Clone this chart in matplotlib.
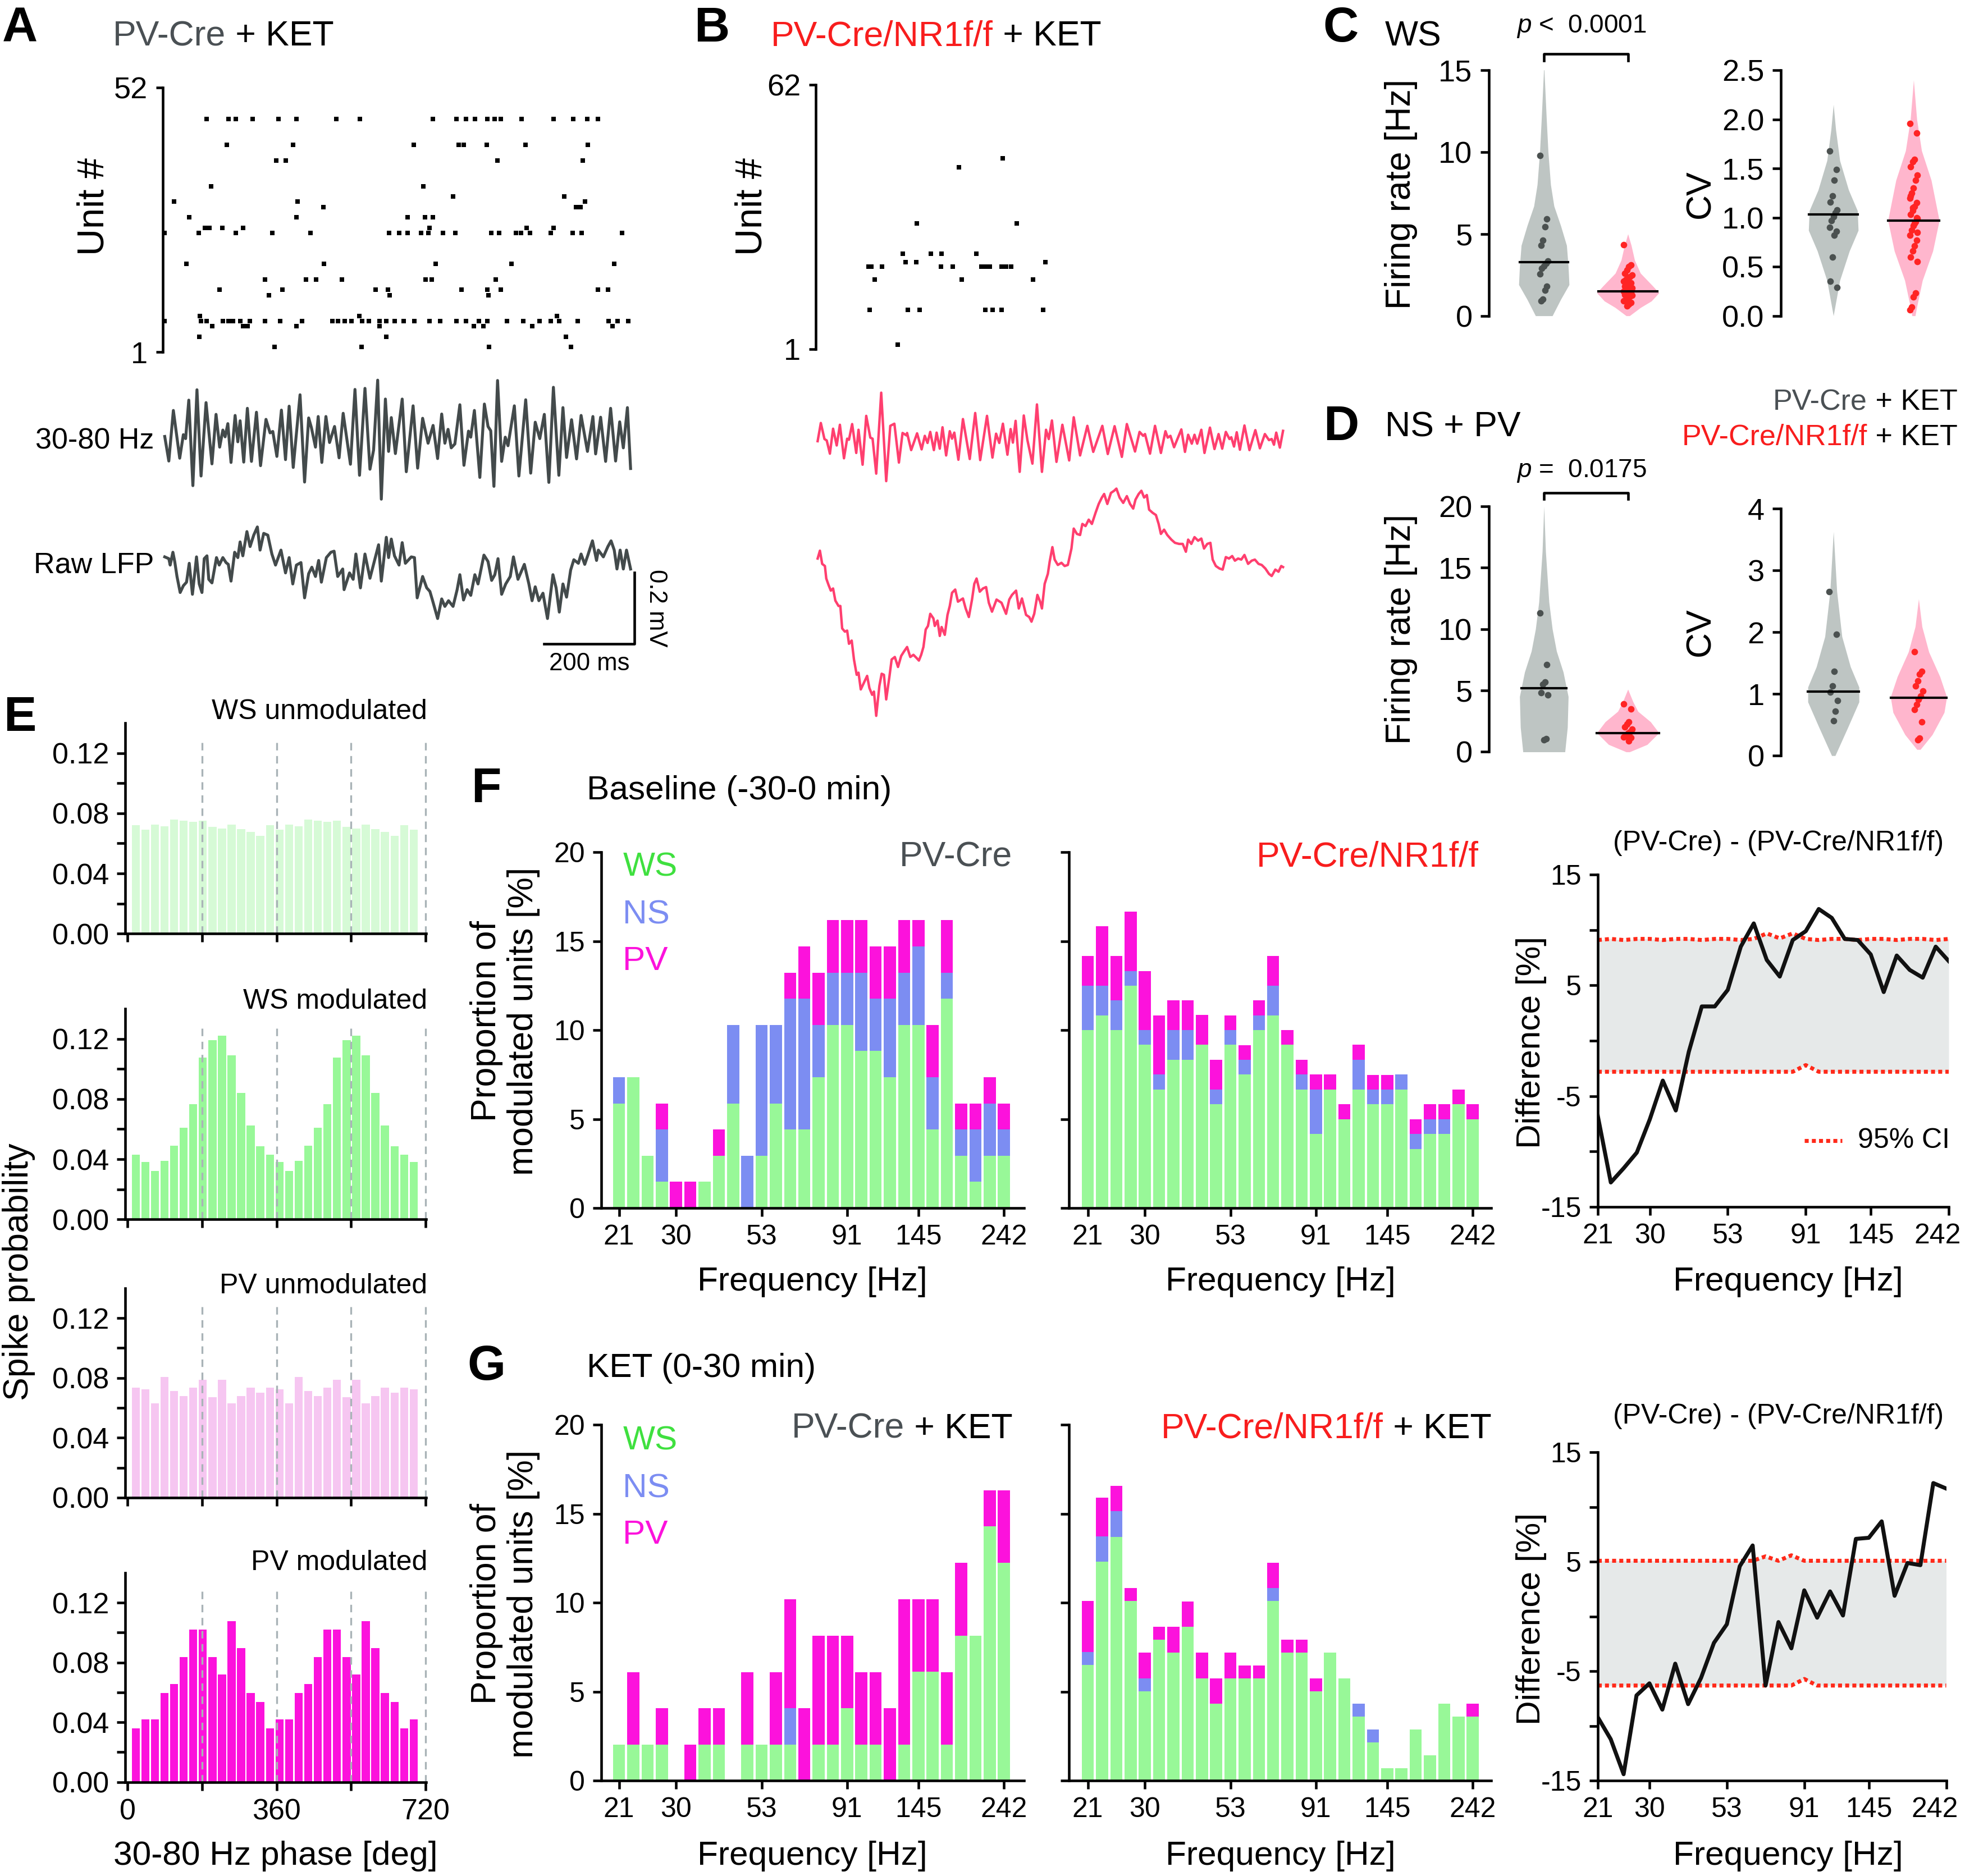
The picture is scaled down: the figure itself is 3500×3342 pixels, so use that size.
import numpy as np
import matplotlib
matplotlib.use('Agg')
import matplotlib.pyplot as plt
import matplotlib.transforms as mtransforms

# ---------------- data ----------------
# A: raster, PV-Cre + KET (unit #, spike times in ms)
raster_a_units = [46, 41, 38, 33, 31, 30, 29, 27, 25, 24, 18, 15, 13, 12, 8, 7, 6, 4, 2]
raster_a_times = [
    [92, 140, 157, 194, 250, 290, 378, 430, 590, 643, 664, 683, 710, 726, 740, 786, 856, 900, 930, 954],
    [137, 283, 548, 647, 659, 709, 795, 932],
    [245, 267, 733, 921],
    [102, 569],
    [635, 880],
    [21, 292, 925],
    [349, 906, 916],
    [54, 290, 535, 573, 590],
    [88, 98, 127, 173, 583, 797, 856],
    [0, 75, 157, 237, 321, 494, 516, 535, 564, 581, 613, 640, 719, 737, 773, 785, 804, 850, 899, 918, 1007],
    [48, 351, 597, 764, 990],
    [221, 311, 333, 390, 575, 588, 729],
    [121, 259, 464, 492, 654, 711, 740, 954, 976],
    [230, 495, 713],
    [78, 428, 864],
    [0, 80, 92, 128, 140, 150, 167, 188, 221, 254, 302, 369, 381, 397, 411, 435, 450, 473, 488, 507,
     526, 550, 583, 607, 642, 664, 692, 711, 754, 790, 826, 850, 869, 909, 978, 997, 1021],
    [105, 173, 183, 290, 473, 681, 702, 810, 986],
    [76, 488, 883],
    [242, 433, 714, 895],
]
# B: raster, PV-Cre/NR1f/f + KET
raster_b_units = [45, 43, 30, 23, 21, 20, 17, 10, 2]
raster_b_times = [
    [408], [311], [219, 438], [188, 249, 273, 349], [194, 217, 502],
    [112, 118, 142, 271, 297, 361, 369, 379, 405, 415, 426],
    [126, 317, 474], [115, 199, 224, 369, 385, 405, 497], [176],
]

# LFP traces: (time ms, uV)
gamma_a = [(0, 6), (9, -63), (19, 79), (33, -55), (41, 11), (46, 0), (53, 108), (62, -132), (71, 137),
           (80, -105), (91, 101), (104, -71), (113, 68), (121, -24), (128, 24), (133, 5), (139, 42),
           (146, -67), (155, 65), (161, -9), (166, 50), (174, -66), (182, 85), (191, -64), (202, 74),
           (211, -76), (223, 54), (232, 16), (238, 20), (247, -50), (257, 80), (266, -59), (274, 91),
           (283, -81), (298, 123), (308, -122), (317, 58), (323, 31), (332, -24), (338, 62), (346, -67),
           (355, 62), (363, -11), (374, 34), (384, -54), (393, 71), (409, -72), (419, 138), (429, -103),
           (441, 141), (452, -86), (460, -32), (469, 164), (477, -170), (486, 111), (493, -36), (499, 59),
           (508, -42), (523, 111), (532, -93), (547, 92), (557, -83), (568, 57), (580, -13), (591, 37),
           (601, -56), (610, 69), (617, -13), (624, 26), (631, -26), (639, -15), (650, 95), (659, -75),
           (669, 21), (674, 4), (682, 79), (694, -109), (704, 97), (712, 34), (718, 22), (725, -134),
           (733, 163), (742, -64), (750, 4), (756, -20), (770, 92), (780, -105), (795, 109), (806, -97),
           (816, 46), (826, 0), (836, 68), (846, -123), (856, 144), (868, -103), (877, 87), (885, -53),
           (896, 53), (907, -57), (917, 65), (931, -36), (943, 62), (949, -43), (960, 60), (971, -64),
           (982, 85), (993, -63), (1002, 47), (1010, -26), (1019, 87), (1026, -84)]
raw_a = [(0, 34), (9, 29), (12, 11), (18, 47), (22, 21), (27, -21), (34, -66), (41, -47), (48, -37),
         (54, 16), (61, -71), (70, 34), (76, -42), (82, -66), (87, 29), (93, 37), (97, -29), (104, -39),
         (114, 32), (120, 11), (128, 32), (135, 18), (140, 13), (146, -34), (154, 47), (161, 32),
         (166, 76), (172, 37), (181, 105), (188, 63), (196, 95), (204, 118), (210, 53), (218, 100),
         (227, 95), (236, 42), (244, 11), (256, 53), (266, -11), (274, 32), (282, -42), (290, 11),
         (300, 18), (308, -81), (317, -13), (324, 5), (332, -21), (339, 24), (345, -37), (356, 32),
         (366, 47), (373, 50), (381, -21), (392, 0), (395, -58), (407, -11), (415, -29), (421, 42),
         (431, -53), (441, 42), (452, -26), (471, 68), (477, -34), (488, 89), (493, 32), (499, 84),
         (506, 37), (516, 11), (523, 74), (530, 16), (543, 34), (550, 32), (556, -81), (568, -21),
         (577, -53), (584, -63), (590, -89), (601, -139), (610, -84), (617, -105), (625, -89),
         (635, -105), (644, -58), (650, -16), (658, -87), (666, -58), (674, -74), (683, -16), (690, -42),
         (703, 39), (712, 21), (720, -32), (727, -16), (734, 29), (742, -71), (751, -42), (761, -21),
         (768, 34), (778, -29), (792, 13), (802, -42), (809, -89), (816, -50), (824, -89), (833, -68),
         (843, -139), (855, -16), (862, -53), (869, -121), (877, -42), (885, -79), (894, -3), (901, 26),
         (911, 16), (917, 42), (925, 13), (932, 39), (942, 79), (951, 24), (955, 53), (966, 34),
         (976, 63), (983, 79), (990, 53), (996, 0), (1003, 53), (1010, 0), (1017, 53), (1026, 0)]
gamma_b = [(0, -4), (7, 47), (15, 2), (20, -2), (27, -39), (34, 31), (42, -16), (49, 42), (58, -52),
           (65, 3), (69, 0), (76, 44), (85, -37), (90, 28), (99, -70), (107, 67), (116, 6), (121, 3),
           (129, -95), (140, 132), (151, -116), (160, 39), (169, 45), (179, -64), (187, 19), (196, 12),
           (197, 19), (206, -29), (219, 18), (229, -27), (236, 11), (242, -9), (248, 22), (256, -29),
           (262, 20), (269, -25), (275, 35), (283, -44), (291, 24), (296, 3), (301, 20), (310, -56),
           (320, 58), (335, -54), (347, 75), (358, -57), (373, 67), (385, -50), (393, 17), (400, -9),
           (408, 45), (418, -42), (425, 30), (430, -8), (436, 53), (445, -90), (454, 68), (462, -1),
           (473, -67), (483, 99), (494, -90), (503, 28), (509, 2), (516, 54), (526, -62), (539, 42),
           (554, -58), (564, 63), (578, -44), (594, 39), (607, -34), (627, 39), (639, -40), (654, 38),
           (670, -48), (681, 44), (699, -33), (709, 22), (717, 11), (721, 16), (732, -39), (743, 39),
           (756, -37), (766, 24), (771, 6), (777, 11), (785, -21), (801, 29), (809, -34), (816, 14),
           (824, -11), (830, 14), (836, -11), (845, 28), (852, -37), (864, 34), (874, -26), (883, 16),
           (891, -25), (899, 22), (907, 2), (911, 7), (917, -19), (923, 21), (930, -28), (940, 40),
           (951, -29), (964, 27), (974, -24), (985, 16), (994, -1), (1000, 2), (1005, -14), (1010, 20),
           (1018, -22), (1025, 25)]
raw_b = [(0, 96), (5, 118), (10, 81), (16, 75), (19, 40), (24, 22), (29, 6), (34, 12), (39, -22),
         (46, -37), (50, -37), (54, -100), (60, -109), (65, -106), (69, -143), (75, -134), (80, -187),
         (86, -230), (90, -224), (95, -271), (102, -252), (109, -233), (114, -267), (120, -286),
         (124, -277), (129, -345), (136, -261), (141, -227), (146, -230), (151, -299), (158, -236),
         (163, -187), (170, -180), (177, -208), (184, -177), (190, -165), (197, -152), (204, -180),
         (211, -174), (218, -183), (223, -190), (228, -174), (233, -152), (238, -103), (243, -93),
         (248, -59), (255, -72), (258, -93), (264, -78), (269, -121), (273, -96), (280, -118),
         (286, -62), (291, -37), (296, 0), (303, 9), (309, -25), (320, -16), (326, -44), (333, -68),
         (340, -19), (345, 25), (350, 40), (357, 3), (364, 12), (371, 16), (377, -28), (384, -53),
         (394, -19), (405, -28), (415, -59), (422, -19), (428, -6), (437, 6), (443, -44), (450, -16),
         (459, -62), (466, -68), (471, -81), (477, -59), (484, -6), (490, -25), (494, -44), (500, 25),
         (507, 53), (511, 87), (517, 128), (522, 93), (529, 78), (537, 84), (544, 75), (551, 78),
         (559, 124), (564, 180), (571, 165), (578, 162), (583, 193), (590, 187), (597, 205), (604, 193),
         (612, 224), (619, 249), (626, 267), (631, 277), (638, 249), (646, 280), (653, 286), (658, 292),
         (665, 267), (673, 252), (681, 271), (688, 249), (695, 236), (700, 261), (707, 277), (713, 286),
         (719, 267), (725, 274), (730, 233), (738, 224), (745, 218), (751, 193), (756, 165), (763, 177),
         (770, 162), (779, 149), (787, 140), (796, 137), (804, 137), (811, 115), (816, 149), (823, 137),
         (830, 156), (838, 146), (845, 152), (851, 124), (858, 137), (865, 140), (870, 93), (877, 75),
         (885, 68), (892, 65), (899, 100), (906, 96), (913, 103), (919, 90), (926, 96), (933, 93),
         (940, 106), (948, 81), (956, 90), (963, 93), (971, 81), (978, 78), (986, 68), (994, 53),
         (1000, 47), (1008, 65), (1015, 59), (1021, 75), (1025, 72)]

# C / D: violin outlines (value, half width) and unit values
ws_fr_grey_prof = ([0, 1.0, 1.9, 3.0, 4.3, 5.5, 6.7, 8.0, 10.0, 12.0, 14.0, 15.3],
                   [0.1, 0.2, 0.3, 0.29, 0.27, 0.2, 0.12, 0.08, 0.05, 0.03, 0.012, 0])
ws_fr_red_prof = ([0, 0.5, 0.9, 1.4, 1.8, 2.6, 3.4, 4.3, 5.0],
                  [0.02, 0.15, 0.28, 0.37, 0.3, 0.15, 0.08, 0.04, 0])
ws_cv_grey_prof = ([0, 0.36, 0.66, 0.87, 1.07, 1.28, 1.58, 1.89, 2.15],
                   [0, 0.08, 0.2, 0.31, 0.3, 0.19, 0.08, 0.03, 0])
ws_cv_red_prof = ([0, 0.09, 0.36, 0.66, 0.97, 1.38, 1.68, 2.0, 2.4],
                  [0.02, 0.04, 0.11, 0.24, 0.32, 0.22, 0.1, 0.04, 0])
ns_fr_grey_prof = ([0, 2.0, 4.5, 6.5, 8.2, 10.0, 12.2, 16.3, 20.0],
                   [0.25, 0.28, 0.29, 0.23, 0.15, 0.1, 0.06, 0.02, 0])
ns_fr_red_prof = ([0, 0.6, 1.55, 2.45, 3.3, 4.1, 5.1],
                  [0.02, 0.23, 0.37, 0.27, 0.12, 0.06, 0])
ns_cv_grey_prof = ([0, 0.46, 0.87, 1.11, 1.44, 1.93, 2.66, 3.63],
                   [0.02, 0.17, 0.3, 0.3, 0.2, 0.1, 0.04, 0])
ns_cv_red_prof = ([0.1, 0.34, 0.7, 0.95, 1.28, 1.68, 2.09, 2.54],
                  [0.02, 0.16, 0.3, 0.33, 0.25, 0.12, 0.04, 0])

ws_fr_grey = [9.8, 5.9, 5.45, 4.6, 4.3, 3.35, 3.2, 3.05, 2.9, 2.55, 1.8, 1.55, 1.0, 0.9]
ws_fr_red = [4.35, 3.1, 3.0, 2.8, 2.6, 2.5, 2.4, 2.3, 2.2, 2.1, 2.0, 1.9, 1.85, 1.8, 1.7, 1.65, 1.6,
             1.55, 1.5, 1.45, 1.4, 1.35, 1.3, 1.25, 1.2, 1.1, 1.0, 0.9, 0.8, 0.7, 0.6]
ws_cv_grey = [1.68, 1.49, 1.38, 1.22, 1.16, 1.08, 1.05, 1.01, 0.97, 0.90, 0.86, 0.82, 0.6, 0.35, 0.29]
ws_cv_red = [1.96, 1.86, 1.59, 1.57, 1.52, 1.43, 1.38, 1.3, 1.25, 1.2, 1.15, 1.11, 1.07, 1.03, 0.99,
             0.96, 0.92, 0.87, 0.82, 0.77, 0.71, 0.66, 0.6, 0.55, 0.23, 0.19, 0.09, 0.06, 1.0, 0.94,
             1.1, 1.22, 0.85]
ns_fr_grey = [11.3, 7.1, 5.7, 5.5, 4.8, 4.65, 1.06, 1.0]
ns_fr_red = [3.9, 3.5, 2.45, 2.25, 2.05, 1.85, 1.6, 1.55, 1.3, 1.2, 1.15, 0.9]
ns_cv_grey = [2.66, 1.97, 1.37, 1.13, 1.03, 0.89, 0.72, 0.57]
ns_cv_red = [1.68, 1.37, 1.32, 1.21, 1.13, 1.05, 0.97, 0.91, 0.83, 0.75, 0.55, 0.28, 0.26]
medians = {'ws_fr': (3.28, 1.5), 'ws_cv': (1.03, 0.97), 'ns_fr': (5.2, 1.55), 'ns_cv': (1.04, 0.94)}

# E: spike phase histograms
ws_unmod = [0.072, 0.069, 0.0725, 0.0715, 0.076, 0.075, 0.0745, 0.075, 0.071, 0.070, 0.0725, 0.0695,
            0.0675, 0.065, 0.072, 0.069, 0.0725, 0.0715, 0.076, 0.075, 0.0745, 0.075, 0.071, 0.070,
            0.0725, 0.0695, 0.0675, 0.065, 0.072, 0.069]
ws_mod = [0.043, 0.038, 0.032, 0.039, 0.049, 0.061, 0.0765, 0.1075, 0.119, 0.122, 0.109, 0.084, 0.0625,
          0.0485, 0.043, 0.038, 0.032, 0.039, 0.049, 0.061, 0.0765, 0.1075, 0.119, 0.122, 0.109, 0.084,
          0.0625, 0.0485, 0.043, 0.038]
pv_unmod = [0.0737, 0.0724, 0.063, 0.0807, 0.0713, 0.068, 0.0737, 0.0786, 0.067, 0.0786, 0.063, 0.068,
            0.0737, 0.070, 0.0737, 0.0724, 0.063, 0.0807, 0.0713, 0.068, 0.0737, 0.0786, 0.067, 0.0786,
            0.063, 0.068, 0.0737, 0.070, 0.0737, 0.0724]
pv_mod = [0.036, 0.042, 0.042, 0.0595, 0.0655, 0.0835, 0.102, 0.102, 0.0835, 0.072, 0.1075, 0.0895,
          0.0595, 0.0535, 0.036, 0.042, 0.042, 0.0595, 0.0655, 0.0835, 0.102, 0.102, 0.0835, 0.072,
          0.1075, 0.0895, 0.0595, 0.0535, 0.036, 0.042]

# F / G: proportion of modulated units per frequency bin (WS, NS, PV segments, %)
freq_tick_idx = [0, 4, 10, 16, 21, 27]
freq_tick_labels = ['21', '30', '53', '91', '145', '242']

f_cre_ws = [5.88, 7.35, 2.94, 1.47, 0, 0, 1.47, 2.94, 5.88, 0, 2.94, 5.88, 4.41, 4.41, 7.35, 10.29,
            10.29, 8.82, 8.82, 7.35, 10.29, 10.29, 4.41, 11.76, 2.94, 1.47, 2.94, 2.94]
f_cre_ns = [1.47, 0, 0, 2.94, 0, 0, 0, 0, 4.41, 2.94, 7.35, 4.41, 7.35, 7.35, 2.94, 2.94, 2.94, 4.41,
            2.94, 4.41, 2.94, 4.41, 2.94, 1.47, 1.47, 2.94, 2.94, 1.47]
f_cre_pv = [0, 0, 0, 1.47, 1.47, 1.47, 0, 1.47, 0, 0, 0, 0, 1.47, 2.94, 2.94, 2.94, 2.94, 2.94, 2.94,
            2.94, 2.94, 1.47, 2.94, 2.94, 1.47, 1.47, 1.47, 1.47]
f_nr1_ws = [10.0, 10.83, 10.0, 12.5, 9.17, 6.67, 8.33, 8.33, 9.17, 5.83, 9.17, 7.5, 10.0, 10.83, 9.17,
            6.67, 4.17, 6.67, 5.0, 6.67, 5.83, 5.83, 6.67, 3.33, 4.17, 4.17, 5.83, 5.0]
f_nr1_ns = [2.5, 1.67, 1.67, 0.83, 0.83, 0.83, 1.67, 1.67, 0, 0.83, 0.83, 0.83, 0.83, 1.67, 0, 0.83,
            2.5, 0, 0, 1.67, 0.83, 0.83, 0.83, 0.83, 0.83, 0.83, 0, 0]
f_nr1_pv = [1.67, 3.33, 2.5, 3.33, 3.33, 3.33, 1.67, 1.67, 1.67, 1.67, 0.83, 0.83, 0.83, 1.67, 0.83,
            0.83, 0.83, 0.83, 0.83, 0.83, 0.83, 0.83, 0, 0.83, 0.83, 0.83, 0.83, 0.83]
g_cre_ws = [2.03, 2.03, 2.03, 2.03, 0, 0, 2.03, 2.03, 0, 2.03, 2.03, 2.03, 2.03, 0, 2.03, 2.03, 4.08,
            2.03, 2.03, 0, 2.03, 6.12, 6.12, 2.03, 8.16, 8.16, 14.29, 12.24]
g_cre_ns = [0] * 12 + [2.04] + [0] * 15
g_cre_pv = [0, 4.08, 0, 2.04, 0, 2.04, 2.04, 2.04, 0, 4.08, 0, 4.08, 6.12, 4.08, 6.12, 6.12, 4.08,
            4.08, 4.08, 4.08, 8.16, 4.08, 4.08, 4.08, 4.08, 0, 2.04, 4.08]
g_nr1_ws = [6.5, 12.3, 13.7, 10.1, 5.04, 7.92, 7.2, 8.64, 5.76, 4.32, 5.76, 5.76, 5.76, 10.1, 7.2, 7.2,
            5.04, 7.2, 5.76, 3.6, 2.16, 0.72, 0.72, 2.88, 1.44, 4.32, 3.6, 3.6]
g_nr1_ns = [0.72, 1.44, 1.44, 0, 0.72, 0, 0, 0, 0, 0, 0, 0, 0, 0.72, 0, 0, 0, 0, 0, 0.72, 0.72, 0, 0,
            0, 0, 0, 0, 0]
g_nr1_pv = [2.88, 2.16, 1.44, 0.72, 1.44, 0.72, 1.44, 1.44, 1.44, 1.44, 1.44, 0.72, 0.72, 1.44, 0.72,
            0.72, 0.72, 0, 0, 0, 0, 0, 0, 0, 0, 0, 0, 0.72]

# difference (PV-Cre) - (PV-Cre/NR1f/f) with 95% CI
f_diff = [-6.8, -12.8, -11.5, -10.1, -7.1, -3.6, -6.3, -1.0, 3.1, 3.1, 4.6, 8.5, 10.6, 7.3, 5.8, 9.1,
          9.9, 11.9, 11.1, 9.2, 9.1, 7.8, 4.4, 7.7, 6.4, 5.7, 8.5, 7.2]
f_ci_hi = [9.1, 9.2, 9.1, 9.2, 9.2, 9.1, 9.2, 9.2, 9.1, 9.2, 9.2, 9.1, 9.2, 9.7, 9.25, 9.7, 9.2, 9.1,
           9.2, 9.2, 9.1, 9.2, 9.2, 9.1, 9.2, 9.2, 9.1, 9.2]
f_ci_lo = [-2.8] * 16 + [-2.2] + [-2.8] * 11
g_diff = [-9.2, -11.2, -14.4, -7.2, -6.1, -8.5, -4.3, -8.0, -5.6, -2.4, -0.7, 4.6, 6.5, -6.3, -0.5,
          -2.9, 2.4, -0.1, 2.3, 0.1, 7.1, 7.2, 8.7, 1.9, 4.9, 4.7, 12.2, 11.7]
g_ci_hi = [5.1] * 13 + [5.5, 5.1, 5.6] + [5.1] * 12
g_ci_lo = [-6.3] * 16 + [-5.7] + [-6.3] * 11

# ---------------- style ----------------
plt.rcParams.update({
    'font.family': ['Liberation Sans', 'DejaVu Sans'],
    'mathtext.fontset': 'custom',
    'mathtext.it': 'Liberation Sans:italic',
    'mathtext.rm': 'Liberation Sans',
    'axes.linewidth': 1.1,
    'xtick.major.width': 1.1,
    'ytick.major.width': 1.1,
    'xtick.major.size': 3.5,
    'ytick.major.size': 3.5,
})

GREY_TXT = '#4a5054'
RED_TXT = '#f81d1d'
TRACE_A = '#434a4b'
TRACE_B = '#ff3f6f'
WS_BAR, NS_BAR, PV_BAR = '#98f898', '#7c8df2', '#fc12dc'
WS_TXT = '#3fe03f'
VIO_GREY, PT_GREY = '#bec5c3', '#4b5150'
VIO_RED, PT_RED = '#ffb6cd', '#ff2424'

W, H = 1568.0, 1497.0
fig = plt.figure(figsize=(3500 / 300, 3342 / 300), dpi=300)


def box(x0, y0, x1, y1):
    return fig.add_axes([x0 / W, 1 - y1 / H, (x1 - x0) / W, (y1 - y0) / H])


def clean(ax, left=True, bottom=True):
    ax.spines['top'].set_visible(False)
    ax.spines['right'].set_visible(False)
    ax.spines['left'].set_visible(left)
    ax.spines['bottom'].set_visible(bottom)
    if not left:
        ax.set_yticks([])
    if not bottom:
        ax.set_xticks([])
    ax.patch.set_alpha(0)


ov = fig.add_axes([0, 0, 1, 1], zorder=20)
ov.set_xlim(0, W)
ov.set_ylim(H, 0)
ov.axis('off')


def txt(x, y, s, size, **kw):
    kw.setdefault('ha', 'left')
    kw.setdefault('va', 'center')
    return ov.text(x, y, s, fontsize=size, **kw)


def two_tone(x, y, parts, size, ha='left'):
    if ha == 'left':
        t = ov.text(x, y, parts[0][0], color=parts[0][1], fontsize=size, ha='left', va='center')
        for s, c in parts[1:]:
            t = ov.annotate(s, xy=(1, 0), xycoords=t, color=c, fontsize=size, ha='left', va='bottom')
    else:
        t = ov.text(x, y, parts[-1][0], color=parts[-1][1], fontsize=size, ha='right', va='center')
        for s, c in reversed(parts[:-1]):
            t = ov.annotate(s, xy=(0, 0), xycoords=t, color=c, fontsize=size, ha='right', va='bottom')


# ---------------- A / B ----------------
def raster(ax, units, times, ymax_lab, ylim):
    for u, ts in zip(units, times):
        ax.plot(ts, [u] * len(ts), ls='none', marker='s', ms=1.9, mew=0, color='k')
    ax.set_xlim(-4, 1031)
    ax.set_ylim(*ylim)
    clean(ax, bottom=False)
    ax.spines['left'].set_bounds(1, ymax_lab)
    ax.set_yticks([1, ymax_lab])
    ax.tick_params(labelsize=13, length=3)


raster(box(130, 65, 505, 285), raster_a_units, raster_a_times, 52, (0.03, 53.2))
raster(box(651, 62, 1026, 285), raster_b_units, raster_b_times, 62, (-0.85, 63.6))

ax = box(130, 290, 505, 520)
ax.axis('off')
ax.set_xlim(-4, 1031)
ax.set_ylim(-598, 211)
t, v = zip(*gamma_a)
ax.plot(t, v, color=TRACE_A, lw=1.25)
t, v = zip(*raw_a)
ax.plot(t, np.array(v) - 366, color=TRACE_A, lw=1.25)
ax.plot([835, 1035, 1035], [-576, -576, -376], color='k', lw=1.1, clip_on=False)
ax.text(935, -600, '200 ms', ha='center', va='top', fontsize=10.5)
ax.text(1082, -476, '0.2 mV', rotation=270, ha='center', va='center', fontsize=10.5)

ax = box(651, 290, 1026, 590)
ax.axis('off')
ax.set_xlim(-4, 1031)
ax.set_ylim(-840, 214)
t, v = zip(*gamma_b)
ax.plot(t, v, color=TRACE_B, lw=1.05)
t, v = zip(*raw_b)
ax.plot(t, np.array(v) - 429, color=TRACE_B, lw=1.05)

txt(16, 23, 'A', 21, ha='center', weight='bold')
txt(568, 23, 'B', 21, ha='center', weight='bold')
two_tone(90, 29, [('PV-Cre', GREY_TXT), (' + KET', 'k')], 15)
two_tone(615, 29, [('PV-Cre/NR1f/f', RED_TXT), (' + KET', 'k')], 15)
txt(75, 165, 'Unit #', 16, ha='center', rotation=90)
txt(600, 165, 'Unit #', 16, ha='center', rotation=90)
txt(123, 352, '30-80 Hz', 12.5, ha='right')
txt(123, 451, 'Raw LFP', 12.5, ha='right')


# ---------------- C / D ----------------
def violin_panel(ax, groups, ylim, yticks, labels):
    for pos, (prof, pts, med, fill, dot) in enumerate(groups):
        pv_, pw_ = np.array(prof[0]), np.array(prof[1])
        ax.fill_betweenx(pv_, pos - pw_, pos + pw_, color=fill, lw=0)
        jit = ((np.arange(len(pts)) * 7) % 9 - 4) * 0.012
        ax.plot(pos + jit, pts, 'o', ms=2.8, color=dot, mew=0)
        hw = np.interp(med, pv_, pw_)
        ax.plot([pos - hw, pos + hw], [med, med], color='k', lw=1.0)
    ax.set_ylim(*ylim)
    clean(ax, bottom=False)
    ax.set_yticks(yticks)
    ax.set_yticklabels(labels)
    ax.tick_params(labelsize=13)


ax = box(1188, 56, 1340, 252)
violin_panel(ax, [(ws_fr_grey_prof, ws_fr_grey, medians['ws_fr'][0], VIO_GREY, PT_GREY),
                  (ws_fr_red_prof, ws_fr_red, medians['ws_fr'][1], VIO_RED, PT_RED)],
             (0, 15), [0, 5, 10, 15], ['0', '5', '10', '15'])
ax.set_xlim(-0.657, 1.612)
ax.plot([0, 0, 1, 1], [15.6, 15.98, 15.98, 15.6], color='k', lw=1.1, clip_on=False)

ax = box(1421, 56, 1565, 252)
violin_panel(ax, [(ws_cv_grey_prof, ws_cv_grey, medians['ws_cv'][0], VIO_GREY, PT_GREY),
                  (ws_cv_red_prof, ws_cv_red, medians['ws_cv'][1], VIO_RED, PT_RED)],
             (0, 2.5), [0, 0.5, 1, 1.5, 2, 2.5], ['0.0', '0.5', '1.0', '1.5', '2.0', '2.5'])
ax.set_xlim(-0.656, 1.594)

ax = box(1188, 404, 1340, 600)
violin_panel(ax, [(ns_fr_grey_prof, ns_fr_grey, medians['ns_fr'][0], VIO_GREY, PT_GREY),
                  (ns_fr_red_prof, ns_fr_red, medians['ns_fr'][1], VIO_RED, PT_RED)],
             (0, 20), [0, 5, 10, 15, 20], ['0', '5', '10', '15', '20'])
ax.set_xlim(-0.657, 1.612)
ax.plot([0, 0, 1, 1], [20.6, 21.1, 21.1, 20.6], color='k', lw=1.1, clip_on=False)

ax = box(1421, 406, 1565, 603)
violin_panel(ax, [(ns_cv_grey_prof, ns_cv_grey, medians['ns_cv'][0], VIO_GREY, PT_GREY),
                  (ns_cv_red_prof, ns_cv_red, medians['ns_cv'][1], VIO_RED, PT_RED)],
             (0, 4), [0, 1, 2, 3, 4], ['0', '1', '2', '3', '4'])
ax.set_xlim(-0.618, 1.5)

txt(1070, 23, 'C', 21, ha='center', weight='bold')
txt(1070, 341, 'D', 21, ha='center', weight='bold')
txt(1105, 29, 'WS', 15)
txt(1105, 341, 'NS + PV', 15)
txt(1262, 21, r'$\it{p}$ <  0.0001', 11, ha='center')
txt(1262, 376, r'$\it{p}$ =  0.0175', 11, ha='center')
txt(1118, 155, 'Firing rate [Hz]', 15, ha='center', rotation=90)
txt(1118, 502, 'Firing rate [Hz]', 15, ha='center', rotation=90)
txt(1357, 155, 'CV', 15, ha='center', rotation=90)
txt(1357, 504, 'CV', 15, ha='center', rotation=90)
two_tone(1562, 321, [('PV-Cre', GREY_TXT), (' + KET', 'k')], 12.5, ha='right')
two_tone(1562, 349, [('PV-Cre/NR1f/f', RED_TXT), (' + KET', 'k')], 12.5, ha='right')

# ---------------- E ----------------
phase_centers = np.linspace(20, 691, 30)
e_rows = [((577, 745), ws_unmod, '#d6fad6', 'WS unmodulated', 568),
          ((805, 973), ws_mod, WS_BAR, 'WS modulated', 799),
          ((1028, 1195), pv_unmod, '#f6c6f1', 'PV unmodulated', 1026),
          ((1255, 1422), pv_mod, PV_BAR, 'PV modulated', 1247)]
for k, ((top, bot), vals, col, title, ty) in enumerate(e_rows):
    ax = box(100, top, 340, bot)
    ax.bar(phase_centers, vals, width=19.5, color=col, lw=0)
    for xv in [180, 360, 540, 720]:
        ax.plot([xv, xv], [0, 0.128], color='#a9b3b7', lw=0.8, ls=(0, (4, 3)), clip_on=False)
    ax.set_xlim(-5.1, 720.9)
    ax.set_ylim(0, 0.14)
    clean(ax)
    ax.set_yticks([0, 0.02, 0.04, 0.06, 0.08, 0.10, 0.12])
    ax.set_yticklabels(['0.00', '', '0.04', '', '0.08', '', '0.12'])
    ax.set_xticks([0, 180, 360, 540, 720])
    if k == 3:
        ax.set_xticklabels(['0', '', '360', '', '720'])
    else:
        ax.set_xticklabels([])
    ax.tick_params(labelsize=12.5)
    txt(341, ty, title, 12, ha='right')

txt(16, 573, 'E', 21, ha='center', weight='bold')
txt(15, 1015, 'Spike probability', 15, ha='center', rotation=90)
txt(220, 1481, '30-80 Hz phase [deg]', 14.5, ha='center')


# ---------------- F / G ----------------
def stacked(rect, xlim, ws, ns, pv, ylabels):
    ax = box(*rect)
    idx = np.arange(len(ws))
    ax.bar(idx, ws, 0.85, color=WS_BAR, lw=0)
    ax.bar(idx, ns, 0.85, bottom=ws, color=NS_BAR, lw=0)
    ax.bar(idx, pv, 0.85, bottom=np.add(ws, ns), color=PV_BAR, lw=0)
    ax.set_xlim(*xlim)
    ax.set_ylim(0, 20)
    clean(ax)
    ax.set_yticks([0, 5, 10, 15, 20])
    if not ylabels:
        ax.set_yticklabels([])
    ax.set_xticks(freq_tick_idx)
    ax.set_xticklabels(freq_tick_labels)
    ax.tick_params(labelsize=12)
    return ax


def diff_panel(rect, diff, lo, hi, legend):
    ax = box(*rect)
    idx = np.arange(len(diff))
    ax.fill_between(idx, lo, hi, color='#e6e9e9', lw=0)
    ax.plot(idx, hi, color='#ff2a1a', lw=1.7, ls=(0, (1.0, 0.8)))
    ax.plot(idx, lo, color='#ff2a1a', lw=1.7, ls=(0, (1.0, 0.8)))
    ax.plot(idx, diff, color='#111111', lw=1.7)
    ax.set_xlim(0, 27)
    ax.set_ylim(-15, 15)
    clean(ax)
    ax.set_yticks([-15, -10, -5, 0, 5, 10, 15])
    ax.set_yticklabels(['-15', '', '-5', '', '5', '', '15'])
    ax.set_xticks(freq_tick_idx)
    ax.set_xticklabels(freq_tick_labels)
    ax.tick_params(labelsize=12)
    # last label sits a little left of its tick, as in the reference
    last = ax.xaxis.get_major_ticks()[-1].label1
    shift = mtransforms.ScaledTranslation(-9 * 3500 / W / 300, 0, fig.dpi_scale_trans)
    last.set_transform(last.get_transform() + shift)
    if legend:
        ax.plot([15.9, 18.8], [-9, -9], color='#ff2a1a', lw=1.7, ls=(0, (1.0, 0.8)))
        ax.text(20.0, -9, '95% CI', fontsize=12, va='center', ha='left')
    return ax


stacked((480, 680, 817, 964), (-1.23, 28.4), f_cre_ws, f_cre_ns, f_cre_pv, True)
stacked((853, 680, 1190, 964), (-1.32, 28.3), f_nr1_ws, f_nr1_ns, f_nr1_pv, False)
diff_panel((1275, 698, 1555, 963), f_diff, f_ci_lo, f_ci_hi, True)
stacked((480, 1137, 817, 1421), (-1.23, 28.4), g_cre_ws, g_cre_ns, g_cre_pv, True)
stacked((853, 1137, 1190, 1421), (-1.32, 28.3), g_nr1_ws, g_nr1_ns, g_nr1_pv, False)
diff_panel((1275, 1159, 1553, 1421), g_diff, g_ci_lo, g_ci_hi, False)

for y0, letter, head in [(630, 'F', 'Baseline (-30-0 min)'), (1091, 'G', 'KET (0-30 min)')]:
    txt(388, y0, letter, 21, ha='center', weight='bold')
    txt(468, y0 + 1, head, 14.5)
for yc, yl in [(815, 1023), (1280, 1481)]:
    txt(403, yc, 'Proportion of\nmodulated units [%]', 15, ha='center', rotation=90, linespacing=1.15)
    txt(648, yl, 'Frequency [Hz]', 14.5, ha='center')
    txt(1022, yl, 'Frequency [Hz]', 14.5, ha='center')
    txt(1427, yl, 'Frequency [Hz]', 14.5, ha='center')
for yc, yt in [(832, 673), (1292, 1130)]:
    txt(1222, yc, 'Difference [%]', 14.5, ha='center', rotation=90)
    txt(1419, yt, '(PV-Cre) - (PV-Cre/NR1f/f)', 12, ha='center')
for y0 in [692, 1150]:
    txt(497, y0, 'WS', 14.5, color=WS_TXT)
    txt(497, y0 + 38, 'NS', 14.5, color=NS_BAR)
    txt(497, y0 + 75, 'PV', 14.5, color=PV_BAR)

txt(808, 684, 'PV-Cre', 15, ha='right', color=GREY_TXT)
txt(1180, 684, 'PV-Cre/NR1f/f', 15, ha='right', color=RED_TXT)
two_tone(808, 1140, [('PV-Cre', GREY_TXT), (' + KET', 'k')], 15, ha='right')
two_tone(1190, 1140, [('PV-Cre/NR1f/f', RED_TXT), (' + KET', 'k')], 15, ha='right')

fig.savefig('out.png', dpi=300)
